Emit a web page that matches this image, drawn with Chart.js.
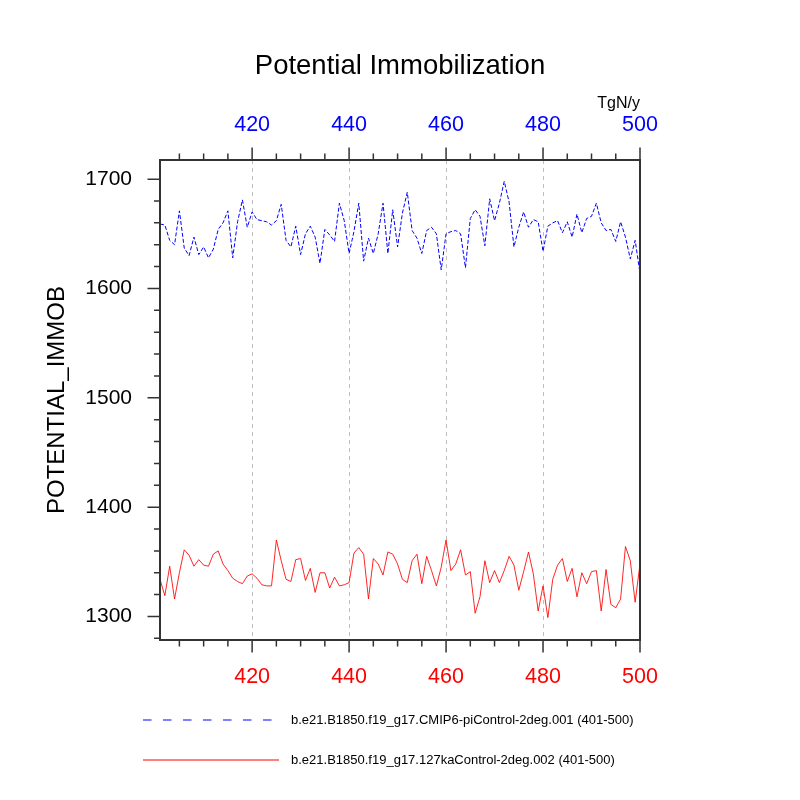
<!DOCTYPE html>
<html>
<head>
<meta charset="utf-8">
<script src="https://cdn.jsdelivr.net/npm/chart.js@4/dist/chart.umd.min.js"></script>
<style>
  body { margin: 0; background: #fff; }
  #wrap { width: 800px; height: 800px; }
</style>
</head>
<body>
<div id="wrap"><canvas id="immobChart" width="800" height="800"></canvas></div>
<script>
// years 401-500 (model years on the x axis)
var years = Array.from({ length: 100 }, function (_, i) { return 401 + i; });

// b.e21.B1850.f19_g17.CMIP6-piControl-2deg.001
var piControl = [
  1659, 1658, 1644, 1640, 1671, 1637, 1630, 1647, 1631, 1638,
  1628, 1636, 1654, 1660, 1671, 1628, 1661, 1681, 1656, 1670,
  1663, 1662, 1661, 1658, 1662, 1677, 1644, 1638, 1657, 1631,
  1650, 1657, 1647, 1623, 1654, 1649, 1643, 1678, 1662, 1632,
  1652, 1678, 1625, 1646, 1632, 1650, 1678, 1632, 1672, 1638,
  1669, 1688, 1653, 1646, 1632, 1653, 1656, 1650, 1617, 1650,
  1652, 1653, 1650, 1619, 1664, 1672, 1666, 1639, 1682, 1662,
  1678, 1698, 1679, 1638, 1656, 1670, 1656, 1663, 1661, 1634,
  1657, 1660, 1662, 1651, 1661, 1647, 1668, 1651, 1664, 1666,
  1678, 1660, 1653, 1654, 1643, 1661, 1647, 1627, 1644, 1614
];

// b.e21.B1850.f19_g17.127kaControl-2deg.002
var ka127Control = [
  1334, 1319, 1346, 1316, 1340, 1361, 1356, 1346, 1352, 1347,
  1346, 1357, 1360, 1348, 1342, 1335, 1332, 1330, 1337, 1339,
  1335, 1329, 1328, 1328, 1370, 1351, 1334, 1332, 1352, 1353,
  1333, 1344, 1322, 1340, 1340, 1326, 1336, 1328, 1329, 1331,
  1358, 1363, 1357, 1316, 1353, 1348, 1338, 1359, 1357, 1348,
  1334, 1331, 1351, 1357, 1330, 1355, 1342, 1328, 1345, 1370,
  1342, 1348, 1361, 1338, 1341, 1303, 1318, 1351, 1331, 1342,
  1331, 1342, 1355, 1347, 1324, 1341, 1359, 1339, 1305, 1328,
  1299, 1334, 1347, 1353, 1332, 1344, 1318, 1340, 1330, 1341,
  1342, 1305, 1343, 1311, 1308, 1316, 1364, 1351, 1313, 1348
];

var seriesLabels = [
  'b.e21.B1850.f19_g17.CMIP6-piControl-2deg.001 (401-500)',
  'b.e21.B1850.f19_g17.127kaControl-2deg.002 (401-500)'
];

var xMajorTicks = [420, 440, 460, 480, 500];
var xMinorTicks = [405, 410, 415, 425, 430, 435, 445, 450, 455, 465, 470, 475, 485, 490, 495];
var yMajorTicks = [1300, 1400, 1500, 1600, 1700];
var yMinorTicks = [1280, 1320, 1340, 1360, 1380, 1420, 1440, 1460, 1480, 1520, 1540, 1560, 1580, 1620, 1640, 1660, 1680];

var FONT = "'Liberation Sans', Arial, Helvetica, sans-serif";

function toPoints(vals) {
    return vals.map(function (v, i) { return { x: years[i], y: v }; });
}

function plainLabel(v) { return String(v); }

// frame, outward major/minor tick marks, legend and units label
var ornaments = {
    id: 'ornaments',
    afterDraw: function (chart) {
        var c = chart.ctx;
        var a = chart.chartArea;
        var xs = chart.scales.x, ys = chart.scales.y;

        c.save();
        c.strokeStyle = '#333';
        c.lineWidth = 1.5;
        c.beginPath();
        xMajorTicks.forEach(function (t) {
            var px = xs.getPixelForValue(t);
            c.moveTo(px, a.bottom); c.lineTo(px, a.bottom + 12.5);
            c.moveTo(px, a.top); c.lineTo(px, a.top - 12.5);
        });
        xMinorTicks.forEach(function (t) {
            var px = xs.getPixelForValue(t);
            c.moveTo(px, a.bottom); c.lineTo(px, a.bottom + 6.5);
            c.moveTo(px, a.top); c.lineTo(px, a.top - 6.5);
        });
        yMajorTicks.forEach(function (t) {
            var py = ys.getPixelForValue(t);
            c.moveTo(a.left, py); c.lineTo(a.left - 12.5, py);
        });
        yMinorTicks.forEach(function (t) {
            var py = ys.getPixelForValue(t);
            c.moveTo(a.left, py); c.lineTo(a.left - 6, py);
        });
        c.stroke();

        c.lineWidth = 2;
        c.strokeRect(a.left, a.top, a.right - a.left, a.bottom - a.top);

        // units
        c.fillStyle = '#000';
        c.font = '16px ' + FONT;
        c.textAlign = 'right';
        c.textBaseline = 'alphabetic';
        c.fillText('TgN/y', 640, 108);

        // legend
        var rows = [720, 760];
        var legendColors = ['#0000ff', '#ff0000'];
        chart.data.datasets.forEach(function (ds, i) {
            c.beginPath();
            c.setLineDash(i === 0 ? [8.5, 11.5] : []);
            c.strokeStyle = legendColors[i];
            c.lineWidth = 1;
            c.moveTo(143, rows[i]);
            c.lineTo(i === 0 ? 278 : 279, rows[i]);
            c.stroke();
            c.setLineDash([]);
            c.fillStyle = '#000';
            c.font = '13px ' + FONT;
            c.textAlign = 'left';
            c.textBaseline = 'middle';
            c.fillText(ds.label, 291, rows[i]);
        });
        c.restore();
    }
};

var ctx = document.getElementById('immobChart').getContext('2d');
var immobChart = new Chart(ctx, {
    type: 'line',
    data: {
        datasets: [{
            label: seriesLabels[0],
            data: toPoints(piControl),
            borderColor: '#0000ff',
            borderWidth: 1,
            borderDash: [4, 2],
            pointRadius: 0,
            tension: 0,
            fill: false
        }, {
            label: seriesLabels[1],
            data: toPoints(ka127Control),
            borderColor: 'rgba(255,0,0,0.85)',
            borderWidth: 1,
            pointRadius: 0,
            tension: 0,
            fill: false
        }]
    },
    options: {
        responsive: false,
        animation: false,
        devicePixelRatio: 1,
        plugins: {
            legend: { display: false },
            tooltip: { enabled: false },
            title: {
                display: true,
                text: 'Potential Immobilization',
                color: '#000',
                font: { family: FONT, size: 27.5, weight: 'normal' },
                padding: { top: 50, bottom: 0 }
            }
        },
        scales: {
            x: {
                type: 'linear',
                position: 'bottom',
                min: 401,
                max: 500,
                afterBuildTicks: function (s) {
                    s.ticks = xMajorTicks.map(function (v) { return { value: v }; });
                },
                afterFit: function (s) { s.height = 160; },
                ticks: {
                    color: '#ff0000',
                    font: { family: FONT, size: 21.5 },
                    padding: 24,
                    maxRotation: 0,
                    autoSkip: false,
                    callback: plainLabel
                },
                grid: {
                    display: true,
                    drawTicks: false,
                    lineWidth: 1,
                    color: function (c) {
                        return c.tick && c.tick.value === 500 ? 'rgba(0,0,0,0)' : '#bdbdbd';
                    }
                },
                border: { display: false, dash: [4, 4] }
            },
            x2: {
                type: 'linear',
                position: 'top',
                min: 401,
                max: 500,
                afterBuildTicks: function (s) {
                    s.ticks = xMajorTicks.map(function (v) { return { value: v }; });
                },
                afterFit: function (s) { s.height = 160 - 50 - 33; },
                ticks: {
                    color: '#0000ff',
                    font: { family: FONT, size: 21.5 },
                    padding: 22,
                    maxRotation: 0,
                    autoSkip: false,
                    callback: plainLabel
                },
                grid: { display: false, drawTicks: false },
                border: { display: false }
            },
            y: {
                type: 'linear',
                position: 'left',
                min: 1278.5,
                max: 1717.5,
                afterBuildTicks: function (s) {
                    s.ticks = yMajorTicks.map(function (v) { return { value: v }; });
                },
                afterFit: function (s) { s.width = 160; },
                ticks: {
                    color: '#000',
                    font: { family: FONT, size: 21 },
                    padding: 28,
                    callback: plainLabel
                },
                grid: { display: false, drawTicks: false },
                border: { display: false },
                title: {
                    display: true,
                    text: 'POTENTIAL_IMMOB',
                    color: '#000',
                    font: { family: FONT, size: 24 },
                    padding: { top: 43, bottom: 0 }
                }
            },
            // empty right-hand strip so the plot box sits at 160..640
            yRight: {
                type: 'linear',
                position: 'right',
                min: 1278.5,
                max: 1717.5,
                afterFit: function (s) { s.width = 160; },
                ticks: { display: false },
                grid: { display: false, drawTicks: false },
                border: { display: false }
            }
        }
    },
    plugins: [ornaments]
});
</script>
</body>
</html>
